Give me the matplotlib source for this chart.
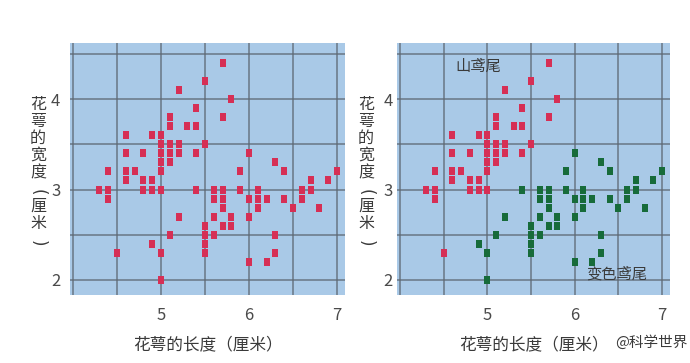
import matplotlib
matplotlib.use('Agg')
import matplotlib.pyplot as plt
import numpy as np

plt.rcParams['font.family'] = ['Noto Sans CJK SC', 'DejaVu Sans']

# iris sepal measurements (cm)
setosa_len = [5.1, 4.9, 4.7, 4.6, 5.0, 5.4, 4.6, 5.0, 4.4, 4.9,
              5.4, 4.8, 4.8, 4.3, 5.8, 5.7, 5.4, 5.1, 5.7, 5.1,
              5.4, 5.1, 4.6, 5.1, 4.8, 5.0, 5.0, 5.2, 5.2, 4.7,
              4.8, 5.4, 5.2, 5.5, 4.9, 5.0, 5.5, 4.9, 4.4, 5.1,
              5.0, 4.5, 4.4, 5.0, 5.1, 4.8, 5.1, 4.6, 5.3, 5.0]
setosa_wid = [3.5, 3.0, 3.2, 3.1, 3.6, 3.9, 3.4, 3.4, 2.9, 3.1,
              3.7, 3.4, 3.0, 3.0, 4.0, 4.4, 3.9, 3.5, 3.8, 3.8,
              3.4, 3.7, 3.6, 3.3, 3.4, 3.0, 3.4, 3.5, 3.4, 3.2,
              3.1, 3.4, 4.1, 4.2, 3.1, 3.2, 3.5, 3.6, 3.0, 3.4,
              3.5, 2.3, 3.2, 3.5, 3.8, 3.0, 3.8, 3.2, 3.7, 3.3]
versi_len = [7.0, 6.4, 6.9, 5.5, 6.5, 5.7, 6.3, 4.9, 6.6, 5.2,
             5.0, 5.9, 6.0, 6.1, 5.6, 6.7, 5.6, 5.8, 6.2, 5.6,
             5.9, 6.1, 6.3, 6.1, 6.4, 6.6, 6.8, 6.7, 6.0, 5.7,
             5.5, 5.5, 5.8, 6.0, 5.4, 6.0, 6.7, 6.3, 5.6, 5.5,
             5.5, 6.1, 5.8, 5.0, 5.6, 5.7, 5.7, 6.2, 5.1, 5.7]
versi_wid = [3.2, 3.2, 3.1, 2.3, 2.8, 2.8, 3.3, 2.4, 2.9, 2.7,
             2.0, 3.0, 2.2, 2.9, 2.9, 3.1, 3.0, 2.7, 2.2, 2.5,
             3.2, 2.8, 2.5, 2.8, 2.9, 3.0, 2.8, 3.0, 2.9, 2.6,
             2.4, 2.4, 2.7, 2.7, 3.0, 3.4, 3.1, 2.3, 3.0, 2.5,
             2.6, 3.0, 2.6, 2.3, 2.7, 3.0, 2.9, 2.9, 2.5, 2.8]

x_ticks = [5, 6, 7]
y_ticks = [2, 3, 4]
x_label = '花萼的长度（厘米）'
y_label = '花萼的宽度(厘米)'
names = ['山鸢尾', '变色鸢尾']

RED = '#d62f55'
GREEN = '#176b3a'
BG = '#a9c9e7'
GRID = '#5d6873'
TXT = '#3a3a3a'

# tall little rectangle marker
rect = [(-0.36, -0.5), (0.36, -0.5), (0.36, 0.5), (-0.36, 0.5), (-0.36, -0.5)]

fig = plt.figure(figsize=(6.9, 3.63), dpi=100)
ax1 = fig.add_axes([70 / 690, 1 - 295 / 363, 275 / 690, 252 / 363])
ax2 = fig.add_axes([397 / 690, 1 - 295 / 363, 273 / 690, 252 / 363])


def style(ax):
    ax.set_facecolor(BG)
    ax.set_xlim(3.966, 7.09)
    ax.set_ylim(1.834, 4.62)
    ax.set_xticks(x_ticks)
    ax.set_yticks(y_ticks)
    ax.set_xticks(np.arange(4.0, 7.01, 0.5), minor=True)
    ax.set_yticks(np.arange(2.0, 4.51, 0.5), minor=True)
    ax.grid(True, which='both', color=GRID, lw=1.1, alpha=0.85)
    ax.set_axisbelow(True)
    ax.tick_params(which='both', length=0)
    ax.tick_params(axis='x', pad=9, labelsize=12, labelcolor='#4a4a4a')
    ax.tick_params(axis='y', pad=7, labelsize=12, labelcolor='#4a4a4a')
    for s in ax.spines.values():
        s.set_visible(False)


def vertical_label(cx, top):
    # stack the characters, brackets turned on their side
    y = top
    for ch in y_label:
        if ch in '()':
            y += 2
            fig.text(cx / 690, 1 - y / 363, ch, ha='center', va='center', rotation=-90,
                     fontsize=12, color=TXT, family='DejaVu Sans')
            y += 14
        else:
            fig.text(cx / 690, 1 - y / 363, ch, ha='center', va='center', fontsize=11.5, color=TXT)
            y += 17.3


style(ax1)
ax1.scatter(setosa_len + versi_len, setosa_wid + versi_wid, marker=rect, s=36, c=RED, lw=0)

style(ax2)
ax2.tick_params(axis='y', pad=3)
ax2.scatter(setosa_len, setosa_wid, marker=rect, s=36, c=RED, lw=0)
ax2.scatter(versi_len, versi_wid, marker=rect, s=36, c=GREEN, lw=0)
ax2.text(4.9, 4.36, names[0], ha='center', va='center', fontsize=11, color=TXT)
ax2.text(6.48, 2.06, names[1], ha='center', va='center', fontsize=11, color=TXT)

for cx in (208, 534):
    fig.text(cx / 690, 1 - 345 / 363, x_label, ha='center', va='center', fontsize=12, color=TXT)
vertical_label(38, 104)
vertical_label(366, 104)

fig.text(687 / 690, 1 - 343 / 363, '@科学世界', ha='right', va='center', fontsize=10.5, color=TXT)

fig.savefig('out.png', dpi=100)
